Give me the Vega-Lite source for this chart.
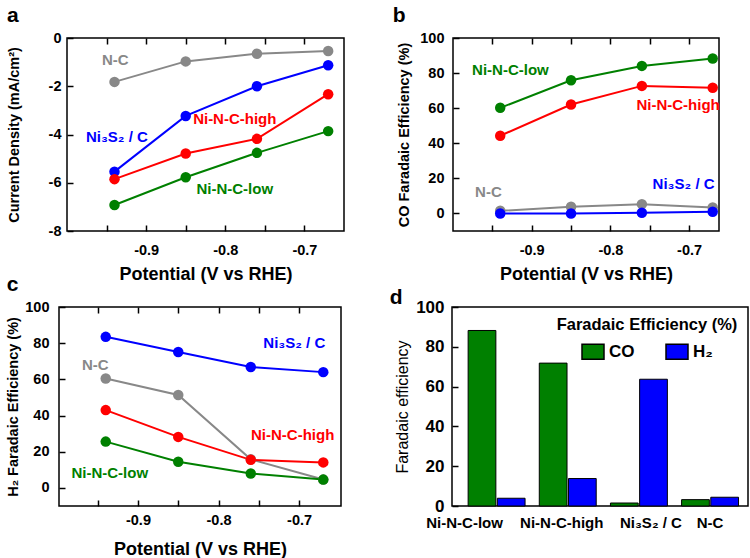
{
  "$schema": "https://vega.github.io/schema/vega-lite/v6.json",
  "padding": {"left": 5, "top": 4, "right": 0, "bottom": 0},
  "background": "white",
  "config": {
    "font": "Liberation Sans",
    "view": {"stroke": "black", "strokeWidth": 1.5},
    "axis": {
      "domain": false, "grid": false, "ticks": true, "tickSize": -6, "tickColor": "black", "tickWidth": 1.5,
      "labelOverlap": false,
      "labelFont": "Liberation Sans", "labelFontWeight": "bold", "labelFontSize": 14.5, "labelColor": "black",
      "titleFont": "Liberation Sans", "titleFontWeight": "bold", "titleColor": "black"
    },
    "axisX": {"labelPadding": 18, "titleFontSize": 18, "titlePadding": 9},
    "axisY": {"labelPadding": 13, "titleFontSize": 14.5, "titlePadding": 8},
    "title": {"anchor": "start", "frame": "bounds", "fontSize": 21, "fontWeight": "bold", "color": "black", "font": "Liberation Sans"}
  },
  "datasets": {
    "a": [
      {"s": "N-C", "V": -0.94, "val": -1.82}, {"s": "N-C", "V": -0.85, "val": -0.97}, {"s": "N-C", "V": -0.76, "val": -0.65}, {"s": "N-C", "V": -0.67, "val": -0.54},
      {"s": "Ni₃S₂ / C", "V": -0.94, "val": -5.54}, {"s": "Ni₃S₂ / C", "V": -0.85, "val": -3.23}, {"s": "Ni₃S₂ / C", "V": -0.76, "val": -2.0}, {"s": "Ni₃S₂ / C", "V": -0.67, "val": -1.13},
      {"s": "Ni-N-C-high", "V": -0.94, "val": -5.85}, {"s": "Ni-N-C-high", "V": -0.85, "val": -4.79}, {"s": "Ni-N-C-high", "V": -0.76, "val": -4.18}, {"s": "Ni-N-C-high", "V": -0.67, "val": -2.33},
      {"s": "Ni-N-C-low", "V": -0.94, "val": -6.92}, {"s": "Ni-N-C-low", "V": -0.85, "val": -5.77}, {"s": "Ni-N-C-low", "V": -0.76, "val": -4.76}, {"s": "Ni-N-C-low", "V": -0.67, "val": -3.86}
    ],
    "la": [
      {"s": "N-C", "V": -0.939, "val": -0.91},
      {"s": "Ni₃S₂ / C", "V": -0.937, "val": -4.1},
      {"s": "Ni-N-C-high", "V": -0.788, "val": -3.37},
      {"s": "Ni-N-C-low", "V": -0.788, "val": -6.24}
    ],
    "b": [
      {"s": "N-C", "V": -0.94, "val": 1.5}, {"s": "N-C", "V": -0.85, "val": 3.8}, {"s": "N-C", "V": -0.76, "val": 5.3}, {"s": "N-C", "V": -0.67, "val": 3.4},
      {"s": "Ni₃S₂ / C", "V": -0.94, "val": 0}, {"s": "Ni₃S₂ / C", "V": -0.85, "val": 0}, {"s": "Ni₃S₂ / C", "V": -0.76, "val": 0.4}, {"s": "Ni₃S₂ / C", "V": -0.67, "val": 1.0},
      {"s": "Ni-N-C-high", "V": -0.94, "val": 44.3}, {"s": "Ni-N-C-high", "V": -0.85, "val": 62.1}, {"s": "Ni-N-C-high", "V": -0.76, "val": 72.7}, {"s": "Ni-N-C-high", "V": -0.67, "val": 71.6},
      {"s": "Ni-N-C-low", "V": -0.94, "val": 60.2}, {"s": "Ni-N-C-low", "V": -0.85, "val": 75.9}, {"s": "Ni-N-C-low", "V": -0.76, "val": 84.1}, {"s": "Ni-N-C-low", "V": -0.67, "val": 88.3}
    ],
    "lb": [
      {"s": "Ni-N-C-low", "V": -0.927, "val": 81.6},
      {"s": "Ni-N-C-high", "V": -0.714, "val": 61.8},
      {"s": "N-C", "V": -0.955, "val": 12.2},
      {"s": "Ni₃S₂ / C", "V": -0.707, "val": 16.9}
    ],
    "c": [
      {"s": "N-C", "V": -0.94, "val": 60.5}, {"s": "N-C", "V": -0.85, "val": 51.4}, {"s": "N-C", "V": -0.76, "val": 15.8}, {"s": "N-C", "V": -0.67, "val": 4.6},
      {"s": "Ni₃S₂ / C", "V": -0.94, "val": 83.5}, {"s": "Ni₃S₂ / C", "V": -0.85, "val": 75.1}, {"s": "Ni₃S₂ / C", "V": -0.76, "val": 66.8}, {"s": "Ni₃S₂ / C", "V": -0.67, "val": 64.0},
      {"s": "Ni-N-C-high", "V": -0.94, "val": 43.0}, {"s": "Ni-N-C-high", "V": -0.85, "val": 28.2}, {"s": "Ni-N-C-high", "V": -0.76, "val": 15.5}, {"s": "Ni-N-C-high", "V": -0.67, "val": 14.1},
      {"s": "Ni-N-C-low", "V": -0.94, "val": 25.6}, {"s": "Ni-N-C-low", "V": -0.85, "val": 14.5}, {"s": "Ni-N-C-low", "V": -0.76, "val": 8.0}, {"s": "Ni-N-C-low", "V": -0.67, "val": 4.6}
    ],
    "lc": [
      {"s": "Ni₃S₂ / C", "V": -0.706, "val": 80},
      {"s": "N-C", "V": -0.953, "val": 67.9},
      {"s": "Ni-N-C-high", "V": -0.708, "val": 29.2},
      {"s": "Ni-N-C-low", "V": -0.935, "val": 8.0}
    ],
    "d": [
      {"cat": "Ni-N-C-low", "gas": "CO", "val": 88.2}, {"cat": "Ni-N-C-low", "gas": "H₂", "val": 3.9},
      {"cat": "Ni-N-C-high", "gas": "CO", "val": 71.8}, {"cat": "Ni-N-C-high", "gas": "H₂", "val": 13.8},
      {"cat": "Ni₃S₂ / C", "gas": "CO", "val": 1.5}, {"cat": "Ni₃S₂ / C", "gas": "H₂", "val": 63.7},
      {"cat": "N-C", "gas": "CO", "val": 3.2}, {"cat": "N-C", "gas": "H₂", "val": 4.4}
    ],
    "empty": [{"k": 0}]
  },
  "spacing": -12,
  "resolve": {"scale": {"color": "independent"}},
  "vconcat": [
    {
      "spacing": 47,
      "resolve": {"scale": {"color": "independent"}},
      "hconcat": [
        {
          "spacing": -55,
          "resolve": {"scale": {"color": "independent"}},
          "hconcat": [
            {
              "width": 1, "height": 1,
              "view": {"stroke": null},
              "data": {"name": "empty"},
              "mark": {"type": "point", "size": 0, "opacity": 0}
            },
            {
              "width": 277, "height": 193,
              "title": {"text": "a", "dx": 1},
              "layer": [
                {
                  "data": {"name": "a"},
                  "mark": {"type": "line", "strokeWidth": 2, "point": {"filled": true, "size": 110, "opacity": 1}},
                  "encoding": {
                    "x": {"field": "V", "type": "quantitative", "scale": {"domain": [-1.0, -0.65], "nice": false, "zero": false},
                          "axis": {"title": "Potential (V vs RHE)", "values": [-0.95, -0.9, -0.85, -0.8, -0.75, -0.7], "labelExpr": "abs(round(datum.value*10)-datum.value*10) < 0.01 ? '-' + format(-datum.value, '.1f') : ''"}},
                    "y": {"field": "val", "type": "quantitative", "scale": {"domain": [-8, 0], "nice": false, "zero": false},
                          "axis": {"title": "Current Density (mA/cm²)", "values": [-8, -6, -4, -2, 0], "labelOverlap": false, "titlePadding": 27, "labelPadding": 12, "labelExpr": "datum.value < 0 ? '-' + format(-datum.value, 'd') : '0'"}},
                    "color": {"field": "s", "type": "nominal", "scale": {"domain": ["Ni-N-C-low", "Ni-N-C-high", "Ni₃S₂ / C", "N-C"], "range": ["#008000", "#ff0000", "#0000ff", "#888888"]}, "legend": null}
                  }
                },
                {
                  "data": {"name": "la"},
                  "mark": {"type": "text", "fontSize": 15, "fontWeight": "bold", "align": "center", "baseline": "middle"},
                  "encoding": {
                    "x": {"field": "V", "type": "quantitative", "axis": {"orient": "top", "labels": false, "title": null, "values": [-0.95, -0.9, -0.85, -0.8, -0.75, -0.7]}},
                    "y": {"field": "val", "type": "quantitative", "axis": {"title": "Current Density (mA/cm²)", "values": [-8, -6, -4, -2, 0], "labelOverlap": false, "titlePadding": 27, "labelPadding": 12, "labelExpr": "datum.value < 0 ? '-' + format(-datum.value, 'd') : '0'"}},
                    "text": {"field": "s"},
                    "color": {"field": "s", "type": "nominal", "legend": null}
                  }
                }
              ],
              "resolve": {"axis": {"x": "independent"}}
            }
          ]
        },
        {
          "width": 266, "height": 193,
          "title": {"text": "b", "dx": -4},
          "layer": [
            {
              "data": {"name": "b"},
              "mark": {"type": "line", "strokeWidth": 2, "point": {"filled": true, "size": 110, "opacity": 1}},
              "encoding": {
                "x": {"field": "V", "type": "quantitative", "scale": {"domain": [-1.0, -0.662], "nice": false, "zero": false},
                      "axis": {"title": "Potential (V vs RHE)", "values": [-0.95, -0.9, -0.85, -0.8, -0.75, -0.7], "labelExpr": "abs(round(datum.value*10)-datum.value*10) < 0.01 ? '-' + format(-datum.value, '.1f') : ''"}},
                "y": {"field": "val", "type": "quantitative", "scale": {"domain": [-10, 100], "nice": false, "zero": false},
                      "axis": {"title": "CO Faradaic Efficiency (%)", "values": [0, 20, 40, 60, 80, 100], "labelOverlap": false, "labelPadding": 15}},
                "color": {"field": "s", "type": "nominal", "scale": {"domain": ["Ni-N-C-low", "Ni-N-C-high", "Ni₃S₂ / C", "N-C"], "range": ["#008000", "#ff0000", "#0000ff", "#888888"]}, "legend": null}
              }
            },
            {
              "data": {"name": "lb"},
              "mark": {"type": "text", "fontSize": 15, "fontWeight": "bold", "align": "center", "baseline": "middle"},
              "encoding": {
                "x": {"field": "V", "type": "quantitative", "axis": {"orient": "top", "labels": false, "title": null, "values": [-0.95, -0.9, -0.85, -0.8, -0.75, -0.7]}},
                "y": {"field": "val", "type": "quantitative", "axis": {"title": "CO Faradaic Efficiency (%)", "values": [0, 20, 40, 60, 80, 100], "labelOverlap": false, "labelPadding": 15}},
                "text": {"field": "s"},
                "color": {"field": "s", "type": "nominal", "legend": null}
              }
            }
          ],
          "resolve": {"axis": {"x": "independent"}}
        }
      ]
    },
    {
      "spacing": 46,
      "resolve": {"scale": {"color": "independent"}},
      "hconcat": [
        {
          "width": 282, "height": 199,
          "title": {"text": "c", "dx": 1},
          "layer": [
            {
              "data": {"name": "c"},
              "mark": {"type": "line", "strokeWidth": 2, "point": {"filled": true, "size": 110, "opacity": 1}},
              "encoding": {
                "x": {"field": "V", "type": "quantitative", "scale": {"domain": [-0.998, -0.648], "nice": false, "zero": false},
                      "axis": {"title": "Potential (V vs RHE)", "values": [-0.95, -0.9, -0.85, -0.8, -0.75, -0.7], "labelPadding": 13, "titlePadding": 14, "labelExpr": "abs(round(datum.value*10)-datum.value*10) < 0.01 ? '-' + format(-datum.value, '.1f') : ''"}},
                "y": {"field": "val", "type": "quantitative", "scale": {"domain": [-10, 100], "nice": false, "zero": false},
                      "axis": {"title": "H₂ Faradaic Efficiency (%)", "values": [0, 20, 40, 60, 80, 100], "labelOverlap": false, "labelPadding": 16, "titlePadding": 4}},
                "color": {"field": "s", "type": "nominal", "scale": {"domain": ["Ni-N-C-low", "Ni-N-C-high", "Ni₃S₂ / C", "N-C"], "range": ["#008000", "#ff0000", "#0000ff", "#888888"]}, "legend": null}
              }
            },
            {
              "data": {"name": "lc"},
              "mark": {"type": "text", "fontSize": 15, "fontWeight": "bold", "align": "center", "baseline": "middle"},
              "encoding": {
                "x": {"field": "V", "type": "quantitative", "axis": {"orient": "top", "labels": false, "title": null, "values": [-0.95, -0.9, -0.85, -0.8, -0.75, -0.7]}},
                "y": {"field": "val", "type": "quantitative", "axis": {"title": "H₂ Faradaic Efficiency (%)", "values": [0, 20, 40, 60, 80, 100], "labelOverlap": false, "labelPadding": 16, "titlePadding": 4}},
                "text": {"field": "s"},
                "color": {"field": "s", "type": "nominal", "legend": null}
              }
            }
          ],
          "resolve": {"axis": {"x": "independent"}}
        },
        {
          "width": 296, "height": 199,
          "title": {"text": "d", "dx": -5, "dy": 14},
          "data": {"name": "d"},
          "mark": {"type": "bar", "stroke": "black", "strokeWidth": 1},
          "encoding": {
            "x": {"field": "cat", "type": "nominal", "sort": ["Ni-N-C-low", "Ni-N-C-high", "Ni₃S₂ / C", "N-C"],
                  "scale": {"paddingInner": 0.2, "paddingOuter": 0.18, "align": 0.63},
                  "axis": {"title": null, "labelAngle": 0, "ticks": false, "labelFontSize": 15, "labelPadding": 9,
                           "labelOffset": {"condition": [{"test": "datum.value === 'Ni-N-C-low'", "value": -32}, {"test": "datum.value === 'Ni-N-C-high'", "value": -6}, {"test": "datum.value === 'Ni₃S₂ / C'", "value": 12}], "value": 0}}},
            "xOffset": {"field": "gas", "type": "nominal", "sort": ["CO", "H₂"], "scale": {"paddingInner": 0.05}},
            "y": {"field": "val", "type": "quantitative", "scale": {"domain": [0, 100], "nice": false},
                  "axis": {"title": "Faradaic efficiency", "titleFontWeight": "normal", "titleFontSize": 16, "labelFontSize": 17, "labelPadding": 14, "titlePadding": 5, "values": [0, 20, 40, 60, 80, 100]}},
            "color": {"field": "gas", "type": "nominal", "scale": {"domain": ["CO", "H₂"], "range": ["#008000", "#0000ff"]},
                      "legend": {"title": "\u00a0\u00a0\u00a0\u00a0\u00a0Faradaic Efficiency (%)", "orient": "top-right", "direction": "horizontal", "offset": 10,
                                 "titleFontSize": 16.5, "titleFontWeight": "bold", "titleColor": "black", "titleAnchor": "middle", "titlePadding": 6, "titleLimit": 400,
                                 "labelFontSize": 17, "labelFontWeight": "bold", "labelColor": "black", "labelOffset": 4, "labelLimit": 200,
                                 "symbolType": "M-1,-0.68H1V0.68H-1Z", "symbolSize": 484, "symbolStrokeColor": "black", "symbolStrokeWidth": 1.5, "symbolOpacity": 1,
                                 "columnPadding": 28, "padding": 0}}
          }
        }
      ]
    }
  ]
}
